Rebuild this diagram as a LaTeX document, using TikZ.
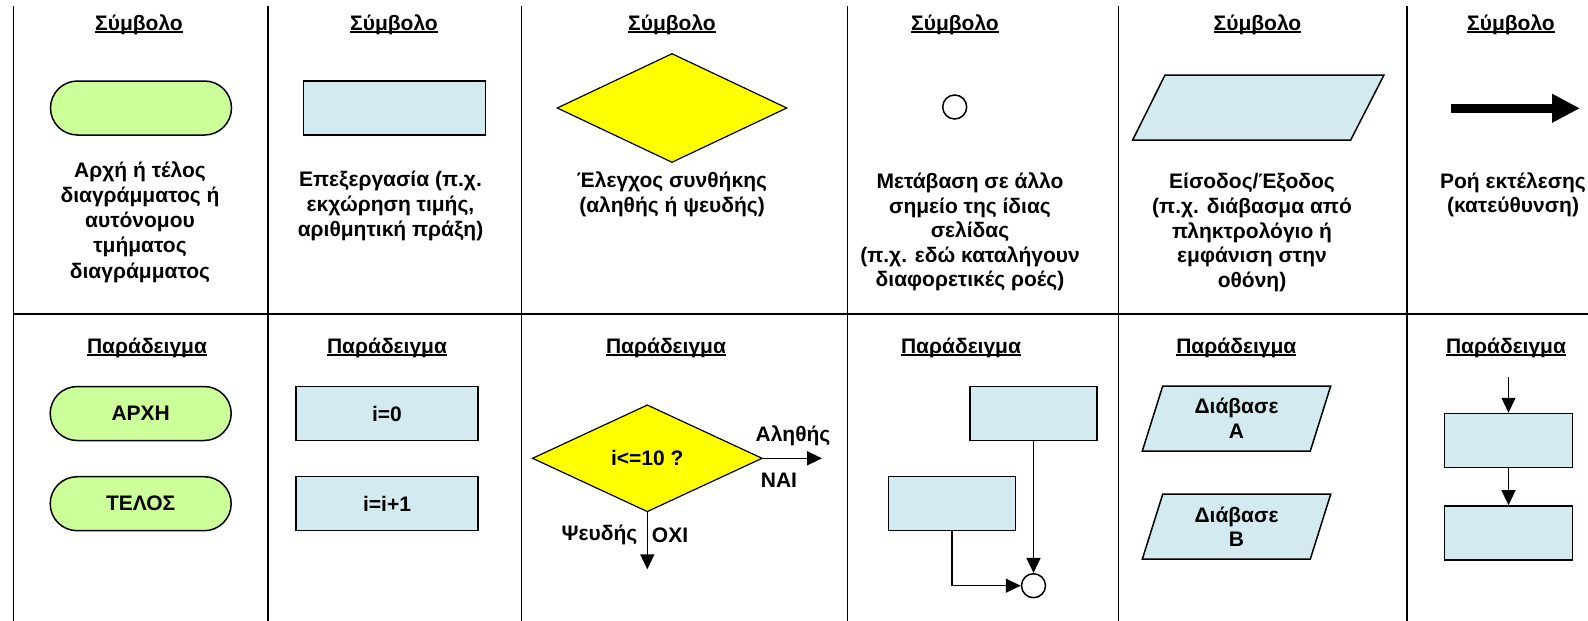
\documentclass[tikz,border=0pt]{standalone}
\usepackage{fontspec}
\setmainfont{Liberation Sans}[BoldFont={Liberation Sans Bold}]
\usepackage{tikz}
\usetikzlibrary{shapes.geometric,shapes.misc,arrows.meta}

\definecolor{termgreen}{RGB}{204,255,153}
\definecolor{procblue}{RGB}{210,234,240}
\definecolor{decyellow}{RGB}{255,255,0}

\newcommand{\undl}[1]{\setbox0\hbox{#1}\rlap{\rule[-2.6pt]{\wd0}{1.5pt}}\box0}

\tikzset{
	txt/.style={font=\bfseries\fontsize{21}{24.6}\selectfont, align=center, inner sep=0pt},
	head/.style={txt, anchor=base},
	term/.style={txt, rounded rectangle, draw, line width=1.5pt, fill=termgreen, minimum width=181, minimum height=54},
	proc/.style={txt, rectangle, draw, line width=1.5pt, fill=procblue, minimum width=182, minimum height=54},
	dec/.style={txt, diamond, aspect=2, draw, line width=1.2pt, fill=decyellow, minimum width=230, minimum height=109},
	conn/.style={circle, draw, line width=1.5pt, fill=white, minimum size=24, inner sep=0pt},
	io/.style={txt, trapezium, trapezium left angle=63, trapezium right angle=117, trapezium stretches body, draw, line width=1.5pt, fill=procblue, minimum height=65},
	flow/.style={line width=1.5pt, -{Triangle[length=15pt,width=14pt]}}
}

\begin{document}
\begin{tikzpicture}[x=1pt, y=-1pt]
\useasboundingbox (0,0) rectangle (1588,621)				;

%%%%-----------Πίνακας-------------%%%%
\foreach \xx in {13.5,268,521.5,847.5,1118.5,1407}
	\draw [black, line width=1.9pt]	(\xx,6) -- (\xx,621)		;
\draw [black, line width=1.9pt]	(13.5,314) -- (1588,314)		;

\foreach \xx [count=\i] in {139,394,672,955,1257.5,1511}
	\node [head] (symb\i) at (\xx,30) {\undl{Σύμβολο}}			;
\foreach \xx [count=\i] in {147,387,666,961,1236.3,1506}
	\node [head] (parad\i) at (\xx,353) {\undl{Παράδειγμα}}		;

%%%-----------Σύμβολα-----------%%%
\node [term] (termsym) at (141,108) {}						;
\node [proc] (procsym) at (394.3,108) {}					;
\node [dec] (decsym) at (672,108) {}						;
\node [conn] (connsym) at (954.7,107) {}					;
\draw [line width=1.5pt, fill=procblue]
	(1132.7,140) -- (1165,75) -- (1384,75) -- (1350.7,140) -- cycle	;
\coordinate (flowA) at (1450.6,108.3)						;
\coordinate (flowB) at (1580,108.3)						;
\draw [line width=9pt, -{Triangle[length=28pt,width=27pt]}] (flowA) -- (flowB)	;

\node [txt, font=\bfseries\fontsize{21}{25.2}\selectfont] (termtxt) at (140,222) {Αρχή ή τέλος\\διαγράμματος ή\\αυτόνομου\\τμήματος\\διαγράμματος}	;
\node [txt] (proctxt) at (390.5,206) {Επεξεργασία (π.χ.\\εκχώρηση τιμής,\\αριθμητική πράξη)}			;
\node [txt] (dectxt) at (672,194.5) {Έλεγχος συνθήκης\\(αληθής ή ψευδής)}						;
\node [txt] (conntxt) at (970,232) {Μετάβαση σε άλλο\\σημείο της ίδιας\\σελίδας\\(π.χ. εδώ καταλήγουν\\διαφορετικές ροές)}	;
\node [txt] (iotxt) at (1252,232.5) {Είσοδος/Έξοδος\\(π.χ. διάβασμα από\\πληκτρολόγιο ή\\εμφάνιση στην\\οθόνη)}	;
\node [txt] (flowtxt) at (1513,194.7) {Ροή εκτέλεσης\\(κατεύθυνση)}						;

%%%-----------Παραδείγματα-----------%%%
\node [term] (arxh) at (140.7,413.5) {ΑΡΧΗ}				;
\node [term] (telos) at (140.7,503.7) {ΤΕΛΟΣ}				;

\node [proc] (izero) at (387,413.5) {i=0}					;
\node [proc] (iinc) at (387,503.7) {i=i+1}				;

\node [dec, minimum height=107] (cond) at (647.3,458.3) {i<=10 ?}	;
\coordinate (yes) at (822,458.3)						;
\coordinate (no) at (647.3,569.3)						;
\draw [flow] (cond.east) -- (yes)						;
\draw [flow] (cond.south) -- (no)						;
\node [txt] (alithis) at (793,436) {Αληθής}				;
\node [txt] (nai) at (779,480.7) {ΝΑΙ}					;
\node [txt] (pseudis) at (599.5,535.3) {Ψευδής}			;
\node [txt] (oxi) at (670,535.3) {ΟΧΙ}					;

\node [proc, minimum width=127] (upbox) at (1033.5,413.5) {}		;
\node [proc, minimum width=127] (lowbox) at (952.2,503.7) {}		;
\node [conn] (join) at (1033.5,585.7) {}					;
\draw [flow] (upbox.south) -- (join.north)				;
\draw [flow] (lowbox.south) |- (join.west)				;

\node [io, minimum width=188.4] (readA) at (1236.5,418.5) {Διάβασε\\Α}	;
\node [io, minimum width=188.4] (readB) at (1236.5,526.7) {Διάβασε\\Β}	;

\coordinate (into) at (1508.5,376.7)					;
\node [proc, minimum width=128] (stepA) at (1508.5,440.5) {}		;
\node [proc, minimum width=128] (stepB) at (1508.5,532.9) {}		;
\draw [flow] (into) -- (stepA.north)					;
\draw [flow] (stepA) -- (stepB)						;

%\draw [help lines, step=50] (0,0) grid (1588,621);
\end{tikzpicture}
\end{document}
